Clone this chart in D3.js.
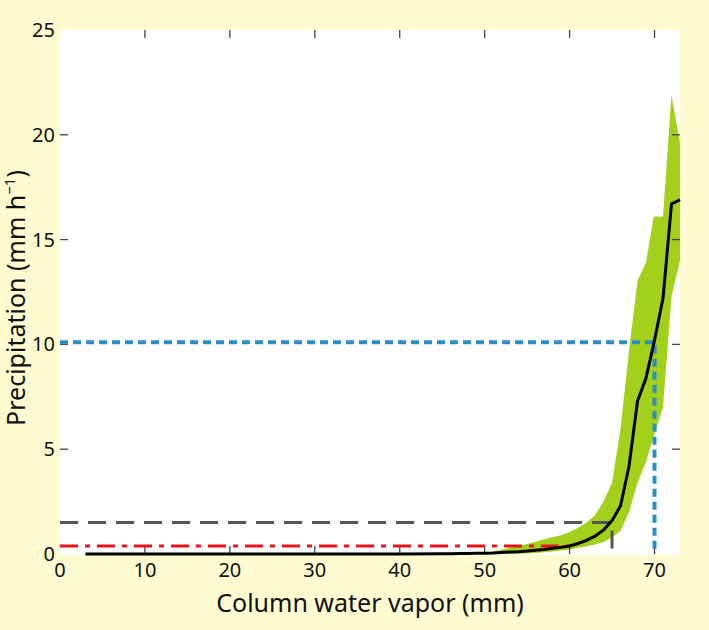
<!DOCTYPE html>
<html>
<head>
<meta charset="utf-8">
<script src="https://cdn.jsdelivr.net/npm/d3@7"></script>
<style>
  body { margin: 0; background: #fdfbcf; }
  text { font-family: "Noto Sans", "Open Sans", sans-serif; fill: #111; }
</style>
</head>
<body>
<div id="chart"></div>
<script>
// mean precipitation curve (black)
const meanX = [3, 10, 20, 30, 40, 45, 46, 47, 48, 49, 50, 51, 52, 53, 54, 55, 56, 57, 58, 59, 60,
  61, 62, 63, 64, 65, 66, 67, 68, 69, 70, 71, 72, 73];
const meanY = [0, 0, 0, 0, 0, 0.01, 0.01, 0.02, 0.02, 0.03, 0.04, 0.05, 0.07, 0.09, 0.11, 0.14, 0.18, 0.22, 0.27, 0.32, 0.38,
  0.5, 0.65, 0.85, 1.15, 1.6, 2.3, 4.2, 7.3, 8.4, 10.2, 12.2, 16.7, 16.9];

// spread band (green)
const bandX = [47, 48, 49, 50, 51, 52, 53, 54, 55, 56, 57, 58, 59, 60, 61, 62, 63, 64, 65, 66, 67, 68, 69, 69.9, 71, 72, 73];
const bandLow = [0, 0, 0, 0, 0, 0, 0, 0.01, 0.02, 0.05, 0.08, 0.12, 0.17, 0.22, 0.3, 0.37, 0.45, 0.57, 0.8, 1.1, 2.0, 3.4, 4.4, 5.6, 7.0, 12.3, 14.0];
const bandHigh = [0, 0.01, 0.03, 0.07, 0.12, 0.2, 0.3, 0.38, 0.48, 0.58, 0.7, 0.8, 0.9, 1.05, 1.25, 1.5, 1.85, 2.5, 3.4, 6.0, 9.7, 13.05, 13.9, 16.1, 16.1, 21.9, 19.6];

// threshold guide lines: [x where it stops, precipitation level]
const redGuide = [60, 0.38];
const grayGuide = [65, 1.5];
const blueGuide = [70, 10.1];

const xTicks = [0, 10, 20, 30, 40, 50, 60, 70];
const yTicks = [0, 5, 10, 15, 20, 25];

class BandChart {
  constructor() {
    this.margin = { top: 30, right: 29, bottom: 76, left: 60 };
    this.width = 709 - this.margin.left - this.margin.right;
    this.height = 630 - this.margin.top - this.margin.bottom;

    this.svg = d3.select("#chart")
      .append("svg")
        .attr("width", 709)
        .attr("height", 630)
      .append("g")
        .attr("transform", "translate(" + this.margin.left + "," + this.margin.top + ")");

    this.x = d3.scaleLinear().domain([0, 73]).range([0, this.width]);
    this.y = d3.scaleLinear().domain([0, 25]).range([this.height, 0]);
  }

  drawFrame() {
    this.svg.append("rect")
      .attr("width", this.width)
      .attr("height", this.height + 1)
      .attr("fill", "#fff");
  }

  drawAxes() {
    const x = this.x, y = this.y, h = this.height, w = this.width;
    const tickColor = "#444";

    // inward tick marks on all four sides
    const xt = xTicks.filter(d => d > 0);
    const yt = yTicks.filter(d => d > 0 && d < 25);
    this.svg.selectAll(".tb").data(xt).join("line")
      .attr("x1", d => x(d)).attr("x2", d => x(d))
      .attr("y1", h).attr("y2", h - 8)
      .attr("stroke", tickColor).attr("stroke-width", 1.3);
    this.svg.selectAll(".tt").data(xt).join("line")
      .attr("x1", d => x(d)).attr("x2", d => x(d))
      .attr("y1", 0).attr("y2", 8)
      .attr("stroke", tickColor).attr("stroke-width", 1.3);
    this.svg.selectAll(".tl").data(yt).join("line")
      .attr("x1", 0).attr("x2", 8)
      .attr("y1", d => y(d)).attr("y2", d => y(d))
      .attr("stroke", tickColor).attr("stroke-width", 1.3);
    this.svg.selectAll(".tr").data(yt).join("line")
      .attr("x1", w).attr("x2", w - 8)
      .attr("y1", d => y(d)).attr("y2", d => y(d))
      .attr("stroke", tickColor).attr("stroke-width", 1.3);

    // tick labels
    this.svg.append("g").selectAll("text").data(xTicks).join("text")
      .attr("x", d => x(d))
      .attr("y", h + 23)
      .attr("text-anchor", "middle")
      .attr("font-size", 20)
      .text(d => d);
    this.svg.append("g").selectAll("text").data(yTicks).join("text")
      .attr("x", -5)
      .attr("y", d => y(d) + 7)
      .attr("text-anchor", "end")
      .attr("font-size", 20)
      .text(d => d);

    // axis titles
    this.svg.append("text")
      .attr("x", w / 2)
      .attr("y", h + 58)
      .attr("text-anchor", "middle")
      .attr("font-size", 25)
      .text("Column water vapor (mm)");

    const yl = this.svg.append("text")
      .attr("transform", "translate(-35,268) rotate(-90)")
      .attr("text-anchor", "middle")
      .attr("font-size", 25);
    yl.append("tspan").text("Precipitation (mm h");
    yl.append("tspan").attr("font-size", 15).attr("dy", -10).text("\u22121");
    yl.append("tspan").attr("dy", 10).text(")");
  }

  drawGuide(g, color, width, dash) {
    const x = this.x, y = this.y;
    this.svg.append("path")
      .attr("d", d3.line()([[x(0), y(g[1])], [x(g[0]), y(g[1])], [x(g[0]), y(0)]]))
      .attr("fill", "none")
      .attr("stroke", color)
      .attr("stroke-width", width)
      .attr("stroke-dasharray", dash);
  }

  display() {
    const x = this.x, y = this.y;
    this.drawFrame();

    // green spread band
    const band = bandX.map((d, i) => ({ x: d, lo: bandLow[i], hi: bandHigh[i] }));
    this.svg.append("path")
      .datum(band)
      .attr("fill", "#a3d11b")
      .attr("d", d3.area()
        .x(d => x(d.x))
        .y0(d => y(d.lo))
        .y1(d => y(d.hi)));

    this.drawAxes();

    // guide lines
    this.drawGuide(redGuide, "#e8141b", 3, "18,7,5,7");
    this.drawGuide(grayGuide, "#555", 3, "18,10");
    this.drawGuide(blueGuide, "#2b8fc6", 4, "8,5");

    // mean curve
    const mean = meanX.map((d, i) => [x(d), y(meanY[i])]);
    this.svg.append("path")
      .attr("d", d3.line()(mean))
      .attr("fill", "none")
      .attr("stroke", "#000")
      .attr("stroke-width", 3)
      .attr("stroke-linejoin", "round");
  }
}

new BandChart().display();
</script>
</body>
</html>
